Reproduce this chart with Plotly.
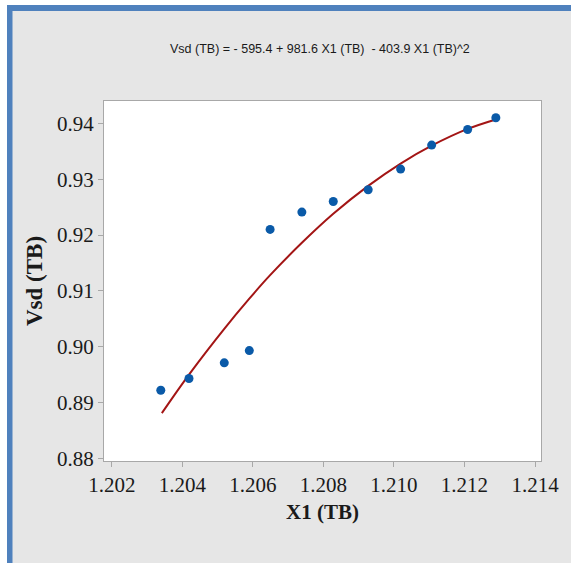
import plotly.graph_objects as go

x1_tb = [1.20339, 1.20419, 1.20519, 1.20590, 1.20649, 1.20739,
         1.20828, 1.20927, 1.21019, 1.21107, 1.21209, 1.21289]
vsd_tb = [0.8922, 0.8943, 0.8971, 0.8993, 0.9210, 0.9241,
          0.9260, 0.9281, 0.9318, 0.9361, 0.9389, 0.9410]

# Fitted quadratic curve
fit_x = [1.20342, 1.20419, 1.20519, 1.20590, 1.20649, 1.20739,
         1.20828, 1.20927, 1.21019, 1.21107, 1.21209, 1.21289]
fit_y = [0.8881, 0.8950, 0.9032, 0.9086, 0.9128, 0.9186,
         0.9238, 0.9288, 0.9328, 0.9360, 0.9390, 0.9407]

x_ticks = [1.202, 1.204, 1.206, 1.208, 1.210, 1.212, 1.214]
y_ticks = [0.88, 0.89, 0.90, 0.91, 0.92, 0.93, 0.94]

title_text = "Vsd (TB) = - 595.4 + 981.6 X1 (TB)  - 403.9 X1 (TB)^2"
x_title = "X1 (TB)"
y_title = "Vsd (TB)"

W, H = 571, 563
ML, MR, MT, MB = 104, 30, 101, 102
PW, PH = W - ML - MR, H - MT - MB


def px(xpix):
    return (xpix - ML) / PW


def py(ypix):
    return (H - MB - ypix) / PH


fig = go.Figure()
fig.add_trace(go.Scatter(x=fit_x, y=fit_y, mode="lines", line_shape="spline",
                         line=dict(color="#a31515", width=2), hoverinfo="skip",
                         showlegend=False))
fig.add_trace(go.Scatter(x=x1_tb, y=vsd_tb, mode="markers",
                         marker=dict(color="#0a5aa8", size=9, symbol="circle"),
                         showlegend=False))

shapes = [
    # white strips outside the frame
    dict(type="rect", xref="paper", yref="paper", x0=px(0), x1=px(7), y0=py(H), y1=py(0),
         fillcolor="white", line_width=0, layer="below"),
    dict(type="rect", xref="paper", yref="paper", x0=px(0), x1=px(W), y0=py(5), y1=py(0),
         fillcolor="white", line_width=0, layer="below"),
    # blue frame bars
    dict(type="rect", xref="paper", yref="paper", x0=px(7), x1=px(12.5), y0=py(H), y1=py(5),
         fillcolor="#4f81bd", line_width=0, layer="below"),
    dict(type="rect", xref="paper", yref="paper", x0=px(7), x1=px(W), y0=py(11), y1=py(5),
         fillcolor="#4f81bd", line_width=0, layer="below"),
]

axis_common = dict(showgrid=False, zeroline=False, showline=True, linecolor="#a8a8a8",
                   linewidth=1, mirror=True, ticks="outside", tickcolor="#a8a8a8",
                   ticklen=5, tickwidth=1,
                   tickfont=dict(family="Liberation Serif, Times New Roman, serif",
                                 size=21, color="#1a1a1a"))

fig.update_layout(
    width=W, height=H,
    margin=dict(l=ML, r=MR, t=MT, b=MB),
    paper_bgcolor="#e6e6e6", plot_bgcolor="white",
    shapes=shapes,
    annotations=[
        dict(text=title_text, xref="paper", yref="paper", x=px(320), y=py(49),
             xanchor="center", yanchor="middle", showarrow=False,
             font=dict(family="Liberation Sans Narrow, Arial Narrow, Liberation Sans, sans-serif",
                       size=12.5, color="#1a1a1a")),
    ],
    xaxis=dict(range=[1.20178, 1.21417], tickvals=x_ticks, tickformat=".3f",
               title=dict(text="<b>" + x_title + "</b>", standoff=8,
                          font=dict(family="Liberation Serif, Times New Roman, serif",
                                    size=21, color="#1a1a1a")),
               **axis_common),
    yaxis=dict(range=[0.87952, 0.9440], tickvals=y_ticks, tickformat=".2f",
               title=dict(text="<b>" + y_title + "</b>", standoff=7,
                          font=dict(family="Liberation Serif, Times New Roman, serif",
                                    size=23, color="#1a1a1a")),
               **axis_common),
)

fig.write_html("out.html")
